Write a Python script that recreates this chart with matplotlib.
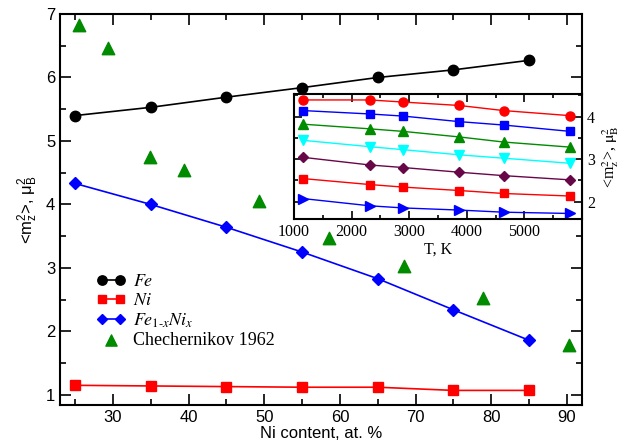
import numpy as np
import matplotlib
matplotlib.use('Agg')
import matplotlib.pyplot as plt
from matplotlib.font_manager import FontProperties
from matplotlib.ticker import MultipleLocator

plt.rcParams['font.family'] = ['Liberation Sans', 'DejaVu Sans']
plt.rcParams['mathtext.fontset'] = 'custom'
plt.rcParams['mathtext.rm'] = 'Liberation Sans'
plt.rcParams['mathtext.it'] = 'Liberation Sans:italic'
plt.rcParams['axes.unicode_minus'] = False

# main panel data
ni = [25, 35, 45, 55, 65, 75, 85]
fe_m2 = [5.40, 5.53, 5.69, 5.84, 6.00, 6.12, 6.27]
ni_m2 = [1.15, 1.14, 1.13, 1.12, 1.12, 1.07, 1.07]
feni_m2 = [4.33, 4.00, 3.64, 3.25, 2.83, 2.34, 1.86]

exp_x = [25.5, 29.3, 34.9, 39.4, 49.3, 58.5, 68.5, 78.9, 90.3]
exp_y = [6.83, 6.46, 4.75, 4.54, 4.05, 3.47, 3.03, 2.53, 1.79]

# inset data (temperature dependence)
temp = [1160, 2320, 2900, 3870, 4640, 5800]
inset_series = [
    [4.39, 4.39, 4.34, 4.26, 4.14, 4.02],
    [4.14, 4.06, 4.01, 3.88, 3.80, 3.65],
    [3.82, 3.71, 3.65, 3.52, 3.40, 3.28],
    [3.44, 3.29, 3.22, 3.10, 3.02, 2.90],
    [3.04, 2.86, 2.80, 2.69, 2.61, 2.51],
    [2.54, 2.40, 2.34, 2.26, 2.19, 2.13],
    [2.07, 1.90, 1.85, 1.80, 1.75, 1.72],
]
inset_colors = ['#ff0000', '#0000ff', '#008b00', '#00ffff', '#670748', '#ff0000', '#0000ff']
inset_markers = ['o', 's', '^', 'v', 'D', 's', '>']
inset_ms = [6.5, 6, 6.5, 6.5, 5, 6, 6.5]

fig = plt.figure(figsize=(6.35, 4.45), dpi=100)
ax = fig.add_axes([0.0945, 0.0899, 0.822, 0.8786])

ax.plot(ni, fe_m2, '-o', color='black', lw=1.2, ms=7.5, label=r'$Fe$')
ax.plot(ni, ni_m2, '-s', color='#ff0000', lw=1.2, ms=6.5, label=r'$Ni$')
ax.plot(ni, feni_m2, '-D', color='#0000ff', lw=1.2, ms=6, label=r'$Fe_{1\text{-}x}Ni_{x}$')
ax.scatter(exp_x, exp_y, marker='^', s=80, color='#008b00', zorder=3, label='Chechernikov 1962')

ax.set_xlim(23, 92)
ax.set_ylim(0.84, 7.0)
ax.xaxis.set_major_locator(MultipleLocator(10))
ax.xaxis.set_minor_locator(MultipleLocator(5))
ax.yaxis.set_major_locator(MultipleLocator(1))
ax.yaxis.set_minor_locator(MultipleLocator(0.5))
ax.tick_params(which='both', direction='in', top=True, right=True, width=1.2, labelsize=12)
ax.tick_params(which='major', length=8)
ax.tick_params(which='minor', length=4)
for sp in ax.spines.values():
    sp.set_linewidth(1.5)
ax.set_xlabel('Ni content, at. %', fontsize=12, labelpad=1)
ax.set_ylabel(r'<m$_\mathrm{z}^{2}$>, $\mathrm{\mu}_\mathrm{B}^{2}$', fontsize=12, labelpad=4)

leg_font = FontProperties(family='Liberation Serif', size=13, math_fontfamily='stix')
ax.legend(loc='upper left', bbox_to_anchor=(0.045, 0.37), frameon=False, prop=leg_font,
          numpoints=2, scatterpoints=1, handlelength=1.6, handletextpad=0.45,
          labelspacing=0.12, borderpad=0.2, markerscale=0.9)

# inset
ins = fig.add_axes([294 / 635, 1 - 219 / 445, 288 / 635, 125 / 445])
for vals, c, m, s in zip(inset_series, inset_colors, inset_markers, inset_ms):
    ins.plot(temp, vals, '-', marker=m, color=c, lw=1.0, ms=s)
ins.set_xlim(1000, 6000)
ins.set_ylim(1.59, 4.53)
ins.xaxis.set_major_locator(MultipleLocator(1000))
ins.xaxis.set_minor_locator(MultipleLocator(500))
ins.yaxis.set_major_locator(MultipleLocator(1))
ins.yaxis.set_minor_locator(MultipleLocator(0.5))
ins.xaxis.set_ticks([1000, 2000, 3000, 4000, 5000])
ins.tick_params(which='both', direction='in', top=True, right=True, left=True,
                labelleft=False, labelright=True, width=1.2, labelsize=11.5)
ins.tick_params(which='major', length=6)
ins.tick_params(which='minor', length=3)
for lab in ins.get_xticklabels() + ins.get_yticklabels():
    lab.set_fontfamily('Liberation Serif')
for sp in ins.spines.values():
    sp.set_linewidth(1.5)
ins.set_xlabel('T, K', fontfamily='Liberation Serif', fontsize=11.5, labelpad=1)
ins.yaxis.set_label_position('right')
ins.set_ylabel(r'<m$_\mathrm{z}^{2}$>, $\mathrm{\mu}_\mathrm{B}^{2}$', fontfamily='Liberation Serif',
               fontsize=11.5, math_fontfamily='stix', labelpad=4)

fig.savefig('out.png', dpi=100)
